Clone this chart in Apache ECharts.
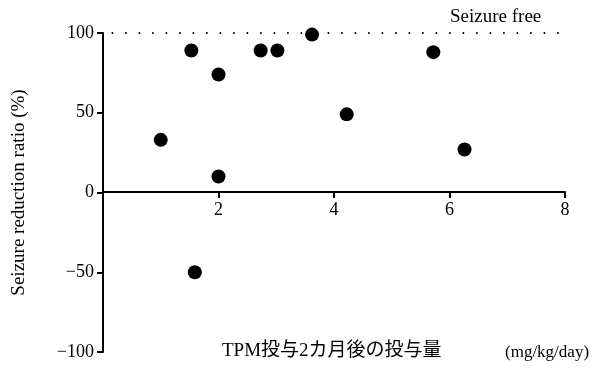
<!DOCTYPE html>
<html>
<head>
<meta charset="utf-8">
<script src="https://cdn.jsdelivr.net/npm/echarts@6/dist/echarts.min.js"></script>
<style>
  html, body { margin: 0; padding: 0; background: #fff; }
  #chart { width: 593px; height: 368px; }
</style>
</head>
<body>
<div id="chart"></div>
<script>
// dose (mg/kg/day) and seizure reduction ratio (%)
const doses = [1.0, 1.53, 2.0, 2.0, 2.73, 3.02, 3.62, 4.22, 5.72, 6.26, 1.59]
const reductions = [33, 89, 74, 10, 89, 89, 99, 49, 88, 27, -50]
const yTicks = [-100, -50, 0, 50, 100]
const xTicks = [2, 4, 6, 8]

const serif = '"Liberation Serif", "DejaVu Serif", serif'
const jp = '"Liberation Serif", "Noto Sans CJK JP", serif'

const chart = echarts.init(document.getElementById('chart'))
chart.setOption({
  animation: false,
  grid: { left: 103, right: 28, top: 33, bottom: 16 },
  xAxis: {
    type: 'value',
    min: 0,
    max: 8,
    interval: 2,
    // x axis sits on y = 0, i.e. 160px above the grid bottom
    offset: -160,
    splitLine: { show: false },
    axisLine: { onZero: false, lineStyle: { color: '#000', width: 2 } },
    axisTick: {
      show: true,
      length: 6,
      lineStyle: { color: '#000', width: 2 },
      customValues: xTicks
    },
    axisLabel: {
      color: '#000',
      fontFamily: serif,
      fontSize: 18,
      margin: 9,
      customValues: xTicks
    }
  },
  yAxis: {
    type: 'value',
    min: yTicks[0],
    max: yTicks[yTicks.length - 1],
    interval: 50,
    splitLine: { show: false },
    axisLine: { lineStyle: { color: '#000', width: 2 } },
    axisTick: { length: 6, lineStyle: { color: '#000', width: 2 } },
    axisLabel: {
      color: '#000',
      fontFamily: serif,
      fontSize: 18,
      margin: 9,
      formatter: v => (v < 0 ? '\u2212' + Math.abs(v) : String(v))
    },
    name: 'Seizure reduction ratio (%)',
    nameLocation: 'middle',
    nameRotate: 90,
    nameGap: 74,
    nameTextStyle: { color: '#000', fontFamily: serif, fontSize: 19 }
  },
  series: [{
    type: 'scatter',
    symbolSize: 14,
    itemStyle: { color: '#000', opacity: 1 },
    data: doses.map((d, i) => [d, reductions[i]]),
    markLine: {
      silent: true,
      symbol: 'none',
      label: { show: false },
      lineStyle: { color: '#000', type: [1.5, 12], width: 2, opacity: 1 },
      data: [[{ coord: [0.15, 100] }, { coord: [8, 100] }]]
    }
  }],
  graphic: [
    {
      type: 'text', left: 450, top: 8,
      style: { text: 'Seizure free', fill: '#000', font: '19px ' + serif }
    },
    {
      type: 'text', left: 222, top: 342,
      style: { text: 'TPM投与2カ月後の投与量', fill: '#000', font: '19px ' + jp }
    },
    {
      type: 'text', left: 505, top: 344,
      style: { text: '(mg/kg/day)', fill: '#000', font: '17px ' + serif }
    }
  ]
})
</script>
</body>
</html>
